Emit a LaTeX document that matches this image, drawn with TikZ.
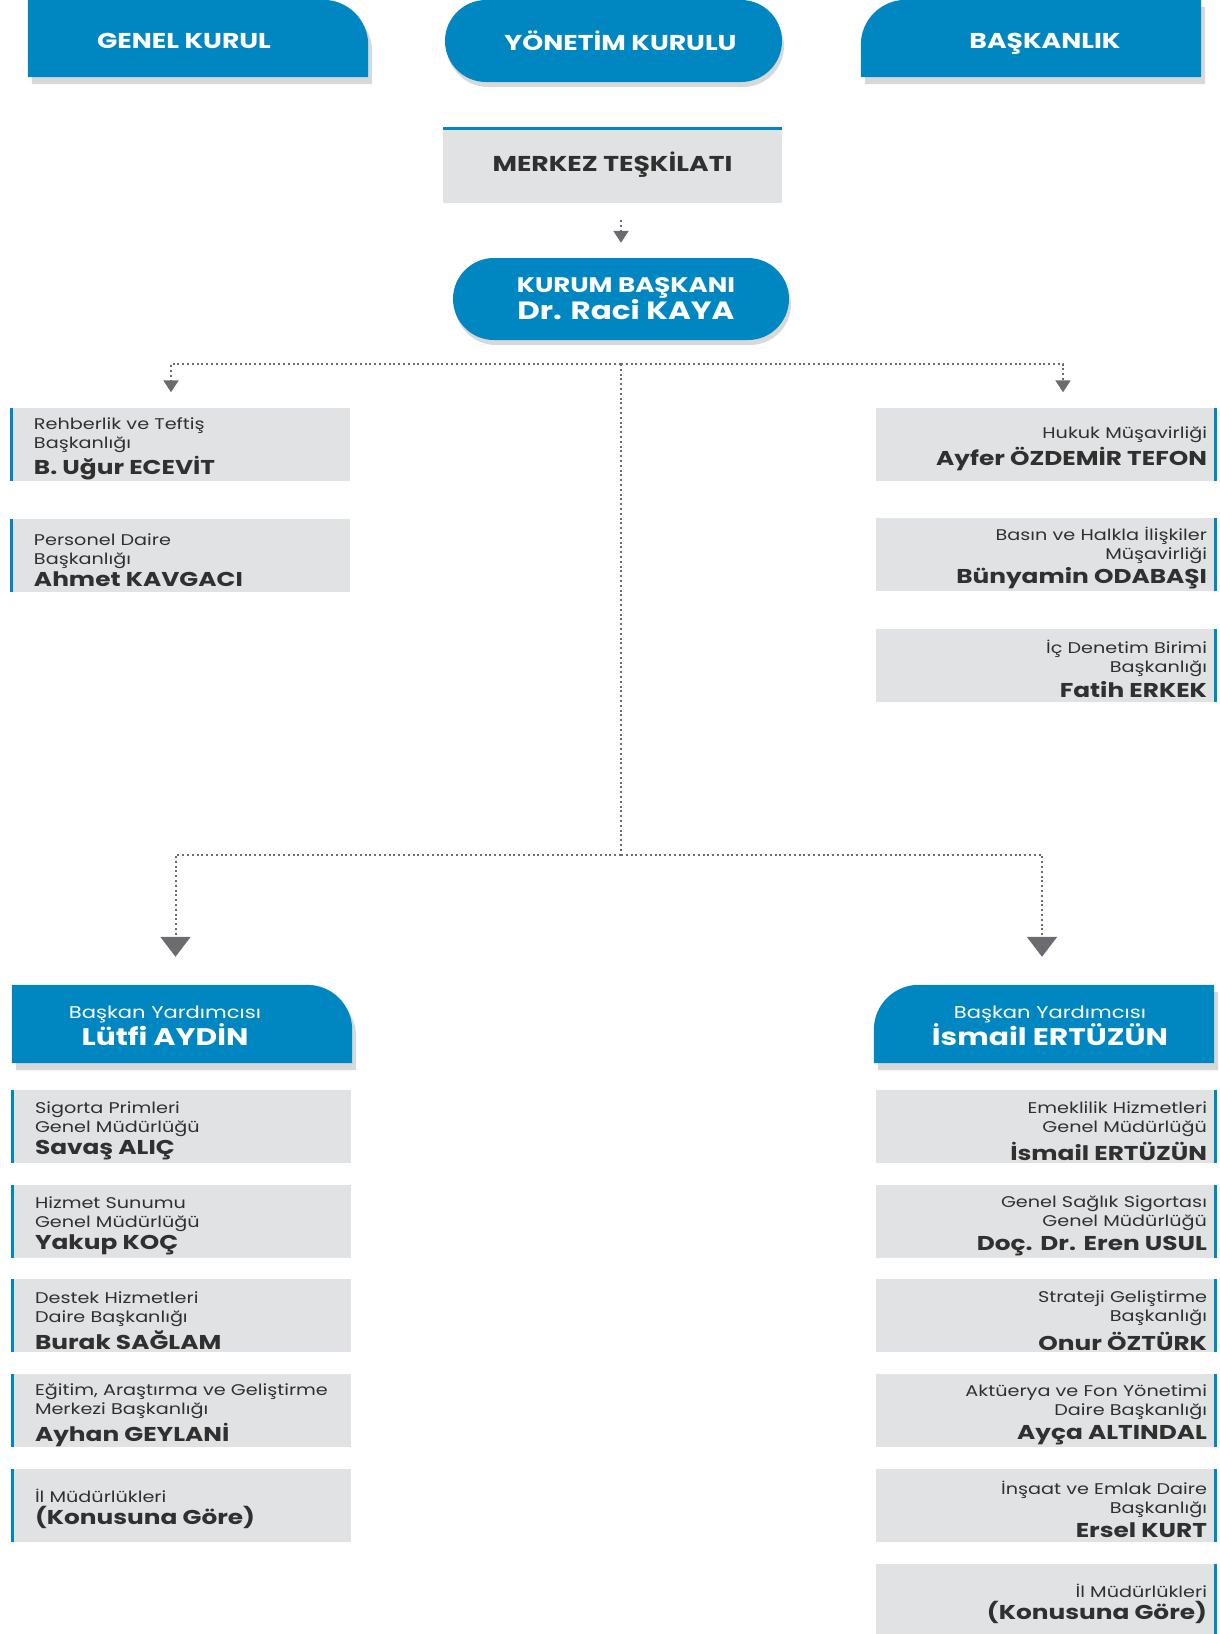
\documentclass[tikz,border=0pt]{standalone}
\usepackage{fontspec}
\setmainfont{Poppins}[FakeStretch=1.24]
\usetikzlibrary{arrows.meta}
\usetikzlibrary{shapes.misc}
\usetikzlibrary{shadows}

\definecolor{mavi}{HTML}{0087C1}
\definecolor{gri}{HTML}{E1E2E4}
\definecolor{golge}{HTML}{D7D8DA}
\definecolor{yazi}{HTML}{303030}
\definecolor{okrenk}{HTML}{6B6C6F}

\newcommand{\adsoyad}[1]{{\fontsize{20}{24}\selectfont\bfseries #1}}

\begin{document}
\begin{tikzpicture}[x=1pt,y=1pt]
\tikzstyle{kutu sol}=[fill=gri, minimum width=340pt, minimum height=73pt, text width=292pt, inner xsep=24pt, inner ysep=0pt, align=left, text=yazi, font=\fontsize{15.5}{19}\selectfont, execute at begin node={\rule{0pt}{21pt}}, path picture={\fill[mavi] (path picture bounding box.north west) rectangle ([xshift=3pt]path picture bounding box.south west);}]
\tikzstyle{kutu sag}=[kutu sol, minimum width=341pt, text width=321pt, inner xsep=10pt, align=right, path picture={\fill[mavi] (path picture bounding box.north east) rectangle ([xshift=-3.5pt]path picture bounding box.south east);}]
\tikzstyle{kapsul}=[rounded rectangle, fill=mavi, text=white, align=center, inner sep=0pt, drop shadow={shadow xshift=2pt, shadow yshift=-5pt, fill=golge, opacity=1}]
\tikzstyle{bos kutu}=[minimum width=340pt, minimum height=77pt, inner sep=0pt]
\tikzstyle{baslik}=[text=white, anchor=base, font=\fontsize{21.5}{26}\selectfont\bfseries]
\tikzstyle{vp yazi}=[text=white, align=center, font=\fontsize{17}{27}\selectfont]
\tikzstyle{nokta}=[draw=okrenk, line width=2pt, dash pattern=on 2pt off 2.8pt]
\tikzstyle{kucuk ok}=[-{Triangle[width=15pt,length=12pt]}]
\tikzstyle{buyuk ok}=[-{Triangle[width=30pt,length=20pt]}]

\useasboundingbox (0,0) rectangle (1219,-1634);

% ust sira
\node[bos kutu] (genel) at (198,-38.5) {};
\fill[golge] ([shift={(4,-7)}]genel.south west) -- ([shift={(4,-7)}]genel.north west) -- ([shift={(-41,-7)}]genel.north east) arc[start angle=90,end angle=0,radius=45] -- ([shift={(4,-7)}]genel.south east) -- cycle;
\fill[mavi] (genel.south west) -- (genel.north west) -- ([xshift=-45pt]genel.north east) arc[start angle=90,end angle=0,radius=45] -- (genel.south east) -- cycle;
\node[baslik] (genelyazi) at (184,-48.5) {GENEL KURUL};

\node[kapsul, minimum width=337pt, minimum height=82pt, font=\fontsize{21.5}{26}\selectfont\bfseries] (yonetim) at (613.5,-41) {\hspace*{14pt}YÖNETİM KURULU};

\node[bos kutu] (baskanlik) at (1031,-38.5) {};
\fill[golge] ([shift={(4,-7)}]baskanlik.south west) -- ([shift={(4,-52)}]baskanlik.north west) arc[start angle=180,end angle=90,radius=45] -- ([shift={(4,-7)}]baskanlik.north east) -- ([shift={(4,-7)}]baskanlik.south east) -- cycle;
\fill[mavi] (baskanlik.south west) -- ([yshift=-45pt]baskanlik.north west) arc[start angle=180,end angle=90,radius=45] -- (baskanlik.north east) -- (baskanlik.south east) -- cycle;
\node[baslik] (baskanlikyazi) at (1045,-48.5) {BAŞKANLIK};

% merkez ve kurum baskani
\node[fill=gri, minimum width=339pt, minimum height=76pt, font=\fontsize{21.5}{26}\selectfont\bfseries, text=yazi, path picture={\fill[mavi] (path picture bounding box.north west) rectangle ([yshift=-3pt]path picture bounding box.north east);}] (merkez) at (612.5,-165) {MERKEZ TEŞKİLATI};

\node[kapsul, minimum width=336pt, minimum height=82pt, font=\fontsize{21}{27}\selectfont\bfseries] (kurum) at (621,-299) {\hspace*{10pt}KURUM BAŞKANI\\\hspace*{10pt}{\fontsize{25}{30}\selectfont Dr. Raci KAYA}};

% baskanliga bagli birimler
\node[kutu sol] (rehber) at (180,-444) {Rehberlik ve Teftiş\\Başkanlığı\\[3pt]\adsoyad{B. Uğur ECEVİT}};
\node[kutu sol] (personel) at (180,-555.5) {Personel Daire\\Başkanlığı\\[3pt]\adsoyad{Ahmet KAVGACI}};

\node[kutu sag] (hukuk) at (1046.5,-444) {Hukuk Müşavirliği\\[4pt]\adsoyad{Ayfer ÖZDEMİR TEFON}};
\node[kutu sag] (basin) at (1046.5,-554.5) {Basın ve Halkla İlişkiler\\Müşavirliği\\[3pt]\adsoyad{Bünyamin ODABAŞI}};
\node[kutu sag] (icdenetim) at (1046.5,-665) {İç Denetim Birimi\\Başkanlığı\\[3pt]\adsoyad{Fatih ERKEK}};

% baskan yardimcilari
\node[bos kutu, minimum height=78pt] (vpsol) at (182,-1024) {};
\fill[golge] ([shift={(4,-7)}]vpsol.south west) -- ([shift={(4,-7)}]vpsol.north west) -- ([shift={(-41,-7)}]vpsol.north east) arc[start angle=90,end angle=0,radius=45] -- ([shift={(4,-7)}]vpsol.south east) -- cycle;
\fill[mavi] (vpsol.south west) -- (vpsol.north west) -- ([xshift=-45pt]vpsol.north east) arc[start angle=90,end angle=0,radius=45] -- (vpsol.south east) -- cycle;
\node[vp yazi] (vpsolyazi) at (165,-1026) {Başkan Yardımcısı\\{\fontsize{24}{28}\selectfont\bfseries Lütfi AYDİN}};

\node[bos kutu, minimum height=78pt] (vpsag) at (1044,-1024) {};
\fill[golge] ([shift={(4,-7)}]vpsag.south west) -- ([shift={(4,-52)}]vpsag.north west) arc[start angle=180,end angle=90,radius=45] -- ([shift={(4,-7)}]vpsag.north east) -- ([shift={(4,-7)}]vpsag.south east) -- cycle;
\fill[mavi] (vpsag.south west) -- ([yshift=-45pt]vpsag.north west) arc[start angle=180,end angle=90,radius=45] -- (vpsag.north east) -- (vpsag.south east) -- cycle;
\node[vp yazi] (vpsagyazi) at (1050,-1026) {Başkan Yardımcısı\\{\fontsize{24}{28}\selectfont\bfseries İsmail ERTÜZÜN}};

% sol alt birimler
\node[kutu sol] (sigorta) at (181,-1126.5) {Sigorta Primleri\\Genel Müdürlüğü\\[3pt]\adsoyad{Savaş ALIÇ}};
\node[kutu sol] (hizmet) at (181,-1221.2) {Hizmet Sunumu\\Genel Müdürlüğü\\[3pt]\adsoyad{Yakup KOÇ}};
\node[kutu sol] (destek) at (181,-1315.9) {Destek Hizmetleri\\Daire Başkanlığı\\[3pt]\adsoyad{Burak SAĞLAM}};
\node[kutu sol] (egitim) at (181,-1410.6) {\mbox{Eğitim, Araştırma ve Geliştirme}\\Merkezi Başkanlığı\\[3pt]\adsoyad{Ayhan GEYLANİ}};
\node[kutu sol] (ilsol) at (181,-1505.3) {İl Müdürlükleri\\[3pt]\adsoyad{(Konusuna Göre)}};

% sag alt birimler
\node[kutu sag] (emeklilik) at (1046.5,-1126.5) {Emeklilik Hizmetleri\\Genel Müdürlüğü\\[5pt]\adsoyad{İsmail ERTÜZÜN}};
\node[kutu sag] (gss) at (1046.5,-1221.2) {Genel Sağlık Sigortası\\Genel Müdürlüğü\\[5pt]\adsoyad{Doç. Dr. Eren USUL}};
\node[kutu sag] (strateji) at (1046.5,-1315.9) {Strateji Geliştirme\\Başkanlığı\\[5pt]\adsoyad{Onur ÖZTÜRK}};
\node[kutu sag] (aktuerya) at (1046.5,-1410.6) {Aktüerya ve Fon Yönetimi\\Daire Başkanlığı\\[5pt]\adsoyad{Ayça ALTINDAL}};
\node[kutu sag] (insaat) at (1046.5,-1505.3) {İnşaat ve Emlak Daire\\Başkanlığı\\[5pt]\adsoyad{Ersel KURT}};
\node[kutu sag] (ilsag) at (1046.5,-1600) {İl Müdürlükleri\\[3pt]\adsoyad{(Konusuna Göre)}};

% baglantilar
\coordinate (ayrim1) at (kurum.south |- 0,-364);
\draw[nokta,kucuk ok,shorten <=17pt,shorten >=15pt] (merkez.south -| kurum.north) -- (kurum.north);
\draw[nokta,kucuk ok,shorten >=15pt] (ayrim1) -| ([xshift=-9pt]rehber.north);
\draw[nokta,kucuk ok,shorten >=15pt] (ayrim1) -| ([xshift=16.5pt]hukuk.north);
\draw[nokta] (ayrim1) -- (ayrim1 |- 0,-855) coordinate (ayrim2);
\draw[nokta,buyuk ok,shorten >=28pt] (ayrim2) -| ([xshift=-6.5pt]vpsol.north);
\draw[nokta,buyuk ok,shorten >=28pt] (ayrim2) -| ([xshift=-2pt]vpsag.north);
\end{tikzpicture}
\end{document}
